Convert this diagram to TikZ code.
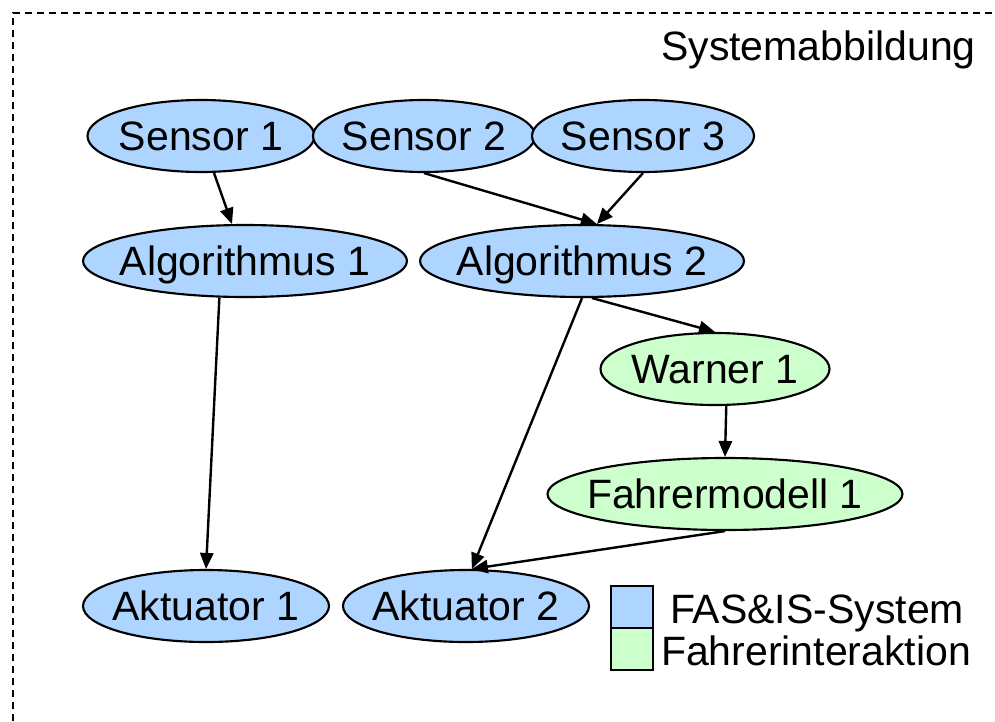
\documentclass[tikz,border=0pt]{standalone}
\usepackage{fontspec}
\setmainfont{Liberation Sans}
\usetikzlibrary{shapes.geometric,arrows.meta}
\definecolor{fasblue}{RGB}{173,213,255}
\definecolor{fahrgreen}{RGB}{204,255,204}
\newcommand{\ctext}[1]{\makebox[0pt]{#1}}
\begin{document}
\begin{tikzpicture}[x=0.75pt,y=-0.75pt,
  every node/.style={font=\fontsize{30.75pt}{36pt}\selectfont},
  txt/.style={inner sep=0pt,text height=22pt,text depth=0pt},
  ell/.style={txt,ellipse,draw=black,line width=1.6pt,minimum height=54pt},
  sysell/.style={ell,fill=fasblue},
  intell/.style={ell,fill=fahrgreen},
  conn/.style={line width=1.8pt,-{Triangle[length=12pt,width=10pt]}},
  legbox/.style={rectangle,draw=black,line width=1.6pt,minimum width=31.5pt,minimum height=31.5pt,inner sep=0pt}]
\useasboundingbox (0,0) rectangle (995,721);
\draw[line width=1.2pt,dash pattern=on 5.25pt off 3.75pt] (13,721) -- (13,13) -- (993,13);
\node[txt,anchor=east] (title) at (976,46) {Systemabbildung};

\node[sysell,minimum width=170.25pt] (s1) at (201,136) {\ctext{Sensor 1}};
\node[sysell,minimum width=166.5pt] (s2) at (424,136) {\ctext{Sensor 2}};
\node[sysell,minimum width=166.5pt] (s3) at (643,136) {\ctext{Sensor 3}};
\node[sysell,minimum width=243pt] (a1) at (245,261) {\ctext{Algorithmus 1}};
\node[sysell,minimum width=243pt] (a2) at (582,261) {\ctext{Algorithmus 2}};
\node[intell,minimum width=171.75pt] (w1) at (715,369) {\ctext{Warner 1}};
\node[intell,minimum width=266.25pt] (fm) at (725,494) {\ctext{Fahrermodell 1}};
\node[sysell,minimum width=184.5pt] (ak1) at (206,606) {\ctext{Aktuator 1}};
\node[sysell,minimum width=184.5pt] (ak2) at (466,606) {\ctext{Aktuator 2}};

\draw[conn] (s1) -- (a1);
\draw[conn] (s2.south) -- (a2.68);
\draw[conn] (s3.south) -- (a2.68);
\draw[conn] (a1.-125) -- (ak1.north);
\draw[conn] (a2.south) -- (ak2.81);
\draw[conn] (a2.-75) -- (w1.north);
\draw[conn] (w1.-73) -- (fm.north);
\draw[conn] (fm.south) -- (ak2.81);

\node[legbox,fill=fasblue] (lb1) at (632,607) {};
\node[legbox,fill=fahrgreen] (lb2) at (632,649) {};
\node[txt] (lt1) at (817,609) {FAS\&IS-System};
\node[txt] (lt2) at (816,651) {Fahrerinteraktion};
\end{tikzpicture}
\end{document}
